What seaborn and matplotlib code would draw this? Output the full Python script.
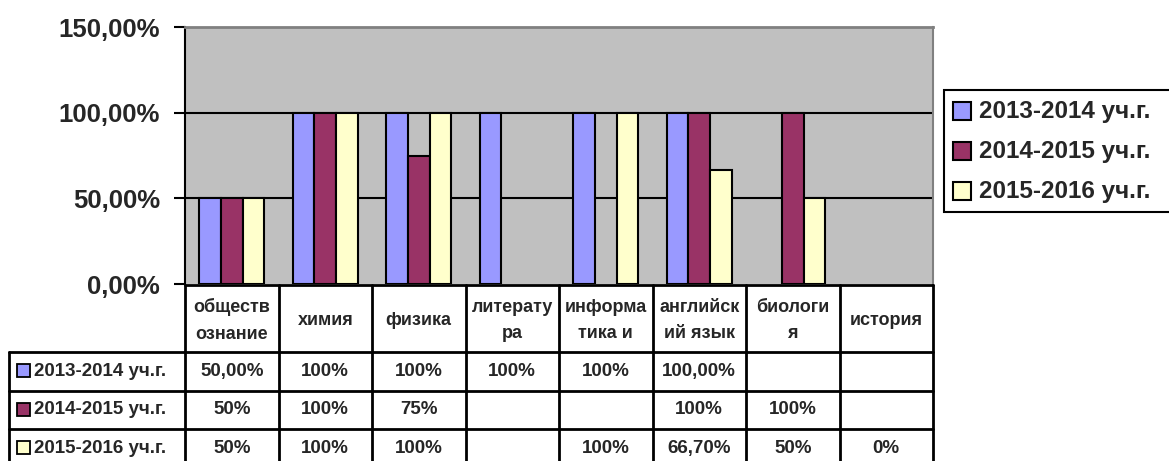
import numpy as np
import pandas as pd
import seaborn as sns
import matplotlib.pyplot as plt
from matplotlib.patches import Rectangle
from matplotlib.ticker import FuncFormatter

# subjects as they appear (wrapped) in the table header
subjects = ["обществ\nознание", "химия", "физика", "литерату\nра", "информа\nтика и",
            "английск\nий язык", "биологи\nя", "история"]
years = ["2013-2014 уч.г.", "2014-2015 уч.г.", "2015-2016 уч.г."]

v_2013 = [0.50, 1.00, 1.00, 1.00, 1.00, 1.00, np.nan, np.nan]
v_2014 = [0.50, 1.00, 0.75, np.nan, np.nan, 1.00, 1.00, np.nan]
v_2015 = [0.50, 1.00, 1.00, np.nan, 1.00, 0.667, 0.50, 0.00]

t_2013 = ["50,00%", "100%", "100%", "100%", "100%", "100,00%", "", ""]
t_2014 = ["50%", "100%", "75%", "", "", "100%", "100%", ""]
t_2015 = ["50%", "100%", "100%", "", "100%", "66,70%", "50%", "0%"]

colors = ["#9999FF", "#993366", "#FFFFCC"]

rows = []
for yr, vals in zip(years, [v_2013, v_2014, v_2015]):
    for s, v in zip(subjects, vals):
        rows.append({"subject": s, "year": yr, "value": v})
df = pd.DataFrame(rows)

sns.set_style("white")
plt.rcParams["font.family"] = ["Liberation Sans", "DejaVu Sans"]
plt.rcParams["font.weight"] = "bold"

W, H = 1169, 461
fig = plt.figure(figsize=(W / 100, H / 100), dpi=100)

# plot area in pixels
px0, px1, py0, py1 = 185, 933, 27, 284
ax = fig.add_axes([px0 / W, 1 - py1 / H, (px1 - px0) / W, (py1 - py0) / H])
ax.set_facecolor("#C0C0C0")
sns.barplot(data=df.dropna(), x="subject", y="value", hue="year", order=subjects,
            hue_order=years, palette=colors, saturation=1, width=0.69, edgecolor="black",
            linewidth=1.5, errorbar=None, legend=False, ax=ax, zorder=3)
for p in ax.patches:
    if p.get_height() == 0:
        p.set_linewidth(0)
ax.set_ylim(0, 1.5)
ax.set_xlim(-0.5, len(subjects) - 0.5)
ax.set_yticks([0, 0.5, 1.0, 1.5])
ax.yaxis.set_major_formatter(FuncFormatter(lambda v, p: f"{v * 100:.2f}%".replace(".", ",")))
for g in [0.5, 1.0]:
    ax.axhline(g, color="black", lw=1.5, zorder=1)
ax.set_xticks([])
ax.set_xlabel("")
ax.set_ylabel("")
ax.tick_params(axis="y", which="both", left=True, length=8, width=1.5, pad=10,
               labelsize=18.5, color="black")
for lab in ax.get_yticklabels():
    lab.set_fontweight("bold")
ax.spines["left"].set_color("black")
ax.spines["left"].set_linewidth(1.5)
ax.spines["top"].set_color("#808080")
ax.spines["top"].set_linewidth(2)
ax.spines["right"].set_color("#808080")
ax.spines["right"].set_linewidth(1.5)
ax.spines["bottom"].set_visible(False)

# data table drawn in pixel coordinates
tab = fig.add_axes([0, 0, 1, 1], zorder=5)
tab.set_xlim(0, W)
tab.set_ylim(H, 0)
tab.axis("off")
lw = 2
colw = (px1 - px0) / len(subjects)
ty_head, ty_rows = 285, [352, 390.5, 429, 467.5]
left = 9
fs = 13.5

tab.plot([px0, px1], [ty_head, ty_head], color="black", lw=lw)
for y in ty_rows:
    tab.plot([left, px1], [y, y], color="black", lw=lw)
tab.plot([left, left], [ty_rows[0], ty_rows[-1]], color="black", lw=lw)
for i in range(len(subjects) + 1):
    x = px0 + i * colw
    tab.plot([x, x], [ty_head, ty_rows[-1]], color="black", lw=lw)

for i, lab in enumerate(subjects):
    tab.text(px0 + (i + 0.5) * colw, (ty_head + ty_rows[0]) / 2 + 2, lab, ha="center",
             va="center", fontsize=13, fontweight="bold", linespacing=1.75)

for r, (yr, txts) in enumerate(zip(years, [t_2013, t_2014, t_2015])):
    yc = (ty_rows[r] + ty_rows[r + 1]) / 2
    tab.add_patch(Rectangle((17, yc - 7), 13, 13, facecolor=colors[r], edgecolor="black", lw=1.3))
    tab.text(34, yc, yr, ha="left", va="center", fontsize=fs, fontweight="bold")
    for i, t in enumerate(txts):
        tab.text(px0 + (i + 0.5) * colw, yc, t, ha="center", va="center",
                 fontsize=fs, fontweight="bold")

# legend box
tab.add_patch(Rectangle((944, 90), 240, 122, facecolor="white", edgecolor="black", lw=1.5))
for r, yr in enumerate(years):
    yc = 111 + r * 40
    tab.add_patch(Rectangle((953, yc - 9), 18, 18, facecolor=colors[r], edgecolor="black", lw=1.5))
    tab.text(979, yc, yr, ha="left", va="center", fontsize=17.5, fontweight="bold")

fig.savefig("out.png", dpi=100)
